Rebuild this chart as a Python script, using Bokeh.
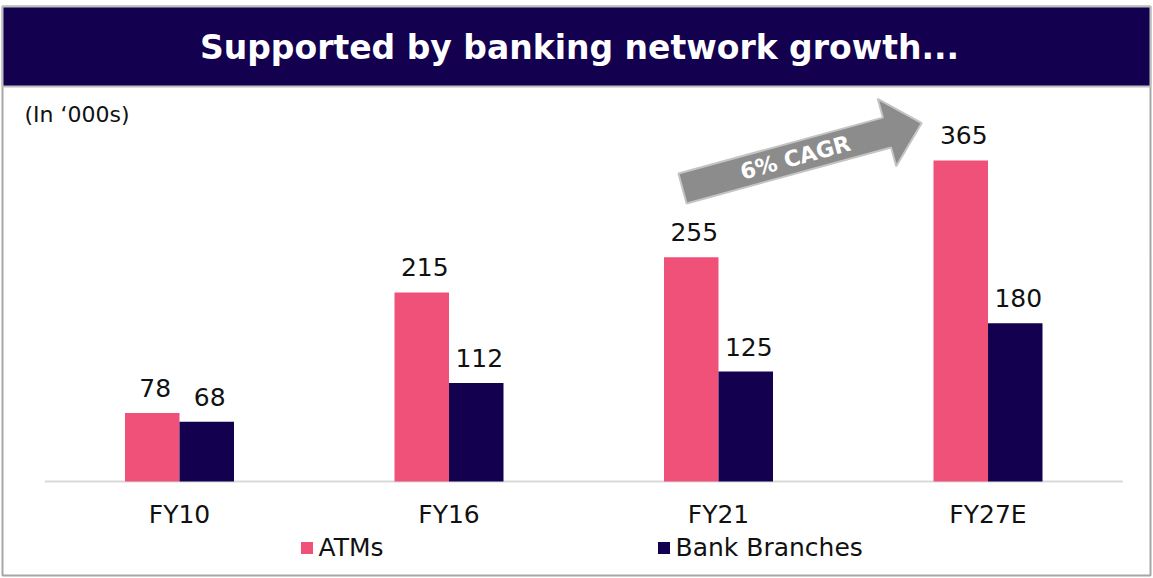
import numpy as np
from bokeh.plotting import figure
from bokeh.models import Range1d, Legend, LegendItem, ColumnDataSource
from bokeh.transform import dodge
from bokeh.core.properties import value
from bokeh.embed import file_html
from bokeh.resources import INLINE

# ---------------- data ----------------
categories = ["FY10", "FY16", "FY21", "FY27E"]
atms = [78, 215, 255, 365]
branches = [68, 112, 125, 180]
series_names = ["ATMs", "Bank Branches"]
title_text = "Supported by banking network growth..."
unit_note = "(In \u2018000s)"
cagr_text = "6% CAGR"

# ---------------- style ----------------
PINK = "#EF5178"
NAVY = "#13004F"
FONT = "DejaVu Sans"
W, H = 1152, 577
OFF = 0  # page offset of the canvas

# geometry in page pixels
first_center = 179.0
spacing = 269.5
base_y = 481.0
px_per_unit = 0.8795
bar_px = 54.5


def to_data(px, py):
    """page pixel -> data coordinates"""
    return (px - first_center) / spacing, (base_y - py) / px_per_unit


x_start, y_end = to_data(OFF, OFF)
x_end, y_start = to_data(OFF + W, OFF + H)

p = figure(width=W, height=H, x_range=Range1d(x_start, x_end), y_range=Range1d(y_start, y_end),
           x_axis_location=None, y_axis_location=None, toolbar_location=None,
           output_backend="svg", min_border=0)
p.xgrid.visible = False
p.ygrid.visible = False
p.outline_line_color = None
p.background_fill_color = "white"
p.border_fill_color = "white"

# outer border
ol, ot = to_data(2, 6)
orr, ob = to_data(1150, 575)
p.quad(left=ol, right=orr, top=ot, bottom=ob, fill_color=None, line_color="#a6a6a6", line_width=2)

# title banner
bl, bt = to_data(2, 6)
br, bb = to_data(1150, 86)
p.quad(left=bl, right=br, top=bt, bottom=bb, fill_color=NAVY, line_color="#bfbfbf", line_width=2)
tx, ty = to_data(579, 47)
p.text(x=[tx], y=[ty], text=[title_text], text_color="white", text_font=value(FONT),
       text_font_style="bold", text_font_size="33px", text_align="center", text_baseline="alphabetic")

# unit note
ux, uy = to_data(24, 114)
p.text(x=[ux], y=[uy], text=[unit_note], text_color="#111111", text_font=value(FONT),
       text_font_size="22px", text_align="left", text_baseline="alphabetic")

# baseline
p.segment(x0=[-0.5], x1=[len(categories) - 0.5], y0=[0], y1=[0], line_color="#d9d9d9", line_width=2)

# bars
idx = list(range(len(categories)))
src = ColumnDataSource(dict(x=idx, cat=categories, atms=atms, branches=branches))
bw = bar_px / spacing
r1 = p.vbar(x=dodge('x', -bw / 2), top='atms', width=bw, source=src, fill_color=PINK, line_color=None)
r2 = p.vbar(x=dodge('x', bw / 2), top='branches', width=bw, source=src, fill_color=NAVY, line_color=None)

gap = 25 / px_per_unit
for col, off in (("atms", -bw / 2), ("branches", bw / 2)):
    p.text(x=dodge('x', off + 3 / spacing), y=dodge(col, gap), text=col, source=src,
           text_color="#111111", text_font=value(FONT), text_font_size="25px",
           text_align="center", text_baseline="alphabetic")

# category labels
_, cy = to_data(0, 514)
p.text(x='x', y=cy, text='cat', source=src, text_color="#111111", text_font=value(FONT),
       text_font_size="25px", text_align="center", text_baseline="alphabetic")

# CAGR arrow (built in page pixels, then mapped)
ang = np.deg2rad(15.3)
d = np.array([np.cos(ang), -np.sin(ang)])
n = np.array([np.sin(ang), np.cos(ang)])
tail = np.array([682.0, 188.0])
shaft_len, shaft_w, head_w, head_len = 212.0, 31.0, 70.0, 36.0
base = tail + d * shaft_len
pts = [tail - n * shaft_w / 2, base - n * shaft_w / 2, base - n * head_w / 2,
       base + d * head_len, base + n * head_w / 2, base + n * shaft_w / 2, tail + n * shaft_w / 2]
ax, ay = zip(*[to_data(*pt) for pt in pts])
p.patch(x=list(ax), y=list(ay), fill_color="#8c8c8c", line_color="#c4c4c4", line_width=2)
mid = tail + d * 117
mx, my = to_data(*mid)
p.text(x=[mx], y=[my], text=[cagr_text], angle=ang, text_color="white", text_font=value(FONT),
       text_font_style="bold", text_font_size="22px", text_align="center", text_baseline="middle")

# legends
leg_y = H - 562
for r, name, lx in ((r1, series_names[0], 298.5 - OFF), (r2, series_names[1], 655.5 - OFF)):
    leg = Legend(items=[LegendItem(label=name, renderers=[r])], location=(lx, leg_y),
                 orientation="horizontal", padding=0, margin=0, spacing=0,
                 glyph_width=15, glyph_height=15, label_height=30, label_standoff=5,
                 label_text_font=FONT, label_text_font_size="25px", label_text_color="#111111",
                 border_line_color=None, background_fill_alpha=0)
    p.add_layout(leg, "center")

open("out.html", "w").write(file_html(p, INLINE))
